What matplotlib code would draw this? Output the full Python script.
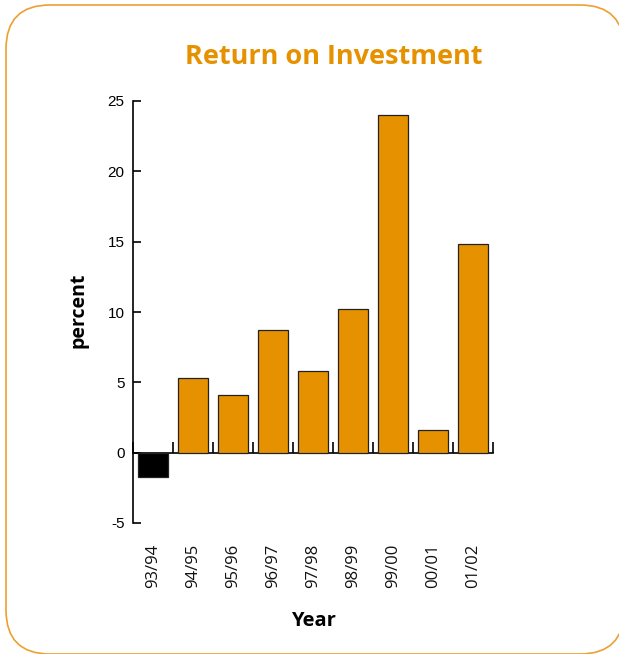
import numpy as np
import matplotlib.pyplot as plt
from matplotlib.patches import FancyBboxPatch
from matplotlib.transforms import blended_transform_factory, IdentityTransform

plt.rcParams['axes.unicode_minus'] = False

years = ['93/94', '94/95', '95/96', '96/97', '97/98', '98/99', '99/00', '00/01', '01/02']
roi = [-1.7, 5.3, 4.1, 8.7, 5.8, 10.2, 24.0, 1.6, 14.8]

orange = '#E69200'

fig = plt.figure(figsize=(6.19, 6.54), dpi=100)

# rounded frame round the whole chart (pixel coordinates, origin bottom left)
frame = FancyBboxPatch((6, 0), 618, 649,
                       boxstyle='round,pad=0,rounding_size=44',
                       transform=IdentityTransform(), facecolor='white',
                       edgecolor='#EDA030', linewidth=1.2, zorder=-1)
fig.patches.append(frame)

ax = fig.add_axes([133/619, 1 - 523/654, 360/619, 422/654])
ax.patch.set_alpha(0)

x = np.arange(len(years))
colors = ['black' if v < 0 else orange for v in roi]
ax.bar(x, roi, width=0.73, color=colors, edgecolor='#222222', linewidth=0.9, zorder=3)

ax.set_xlim(-0.5, len(years) - 0.5)
ax.set_ylim(-5, 25)

ax.spines['top'].set_visible(False)
ax.spines['right'].set_visible(False)
ax.spines['bottom'].set_position(('data', 0))
ax.spines['left'].set_linewidth(1.2)
ax.spines['bottom'].set_linewidth(1.2)

ax.set_yticks([-5, 0, 5, 10, 15, 20, 25])
ax.tick_params(axis='y', direction='in', length=6, width=1.2, pad=6, labelsize=11)
for lab in ax.get_yticklabels():
    lab.set_fontfamily('Liberation Sans')

# ticks between the categories, labels underneath the plot
ax.set_xticks(np.arange(-0.5, len(years)), minor=True)
ax.set_xticks([])
ax.tick_params(axis='x', which='minor', direction='in', length=8, width=1.2)

tr = blended_transform_factory(ax.transData, ax.transAxes)
for xi, lab in zip(x, years):
    ax.text(xi, -0.048, lab, rotation=90, ha='center', va='top', transform=tr,
            fontsize=12, fontfamily='Open Sans', color='#111111')

fig.text(334/619, 1 - 57/654, 'Return on Investment', ha='center', va='center',
         fontsize=19.5, fontweight='bold', color=orange, fontfamily='Open Sans')
fig.text(78/619, 1 - 310/654, 'percent', rotation=90, ha='center', va='center',
         fontsize=14, fontweight='bold', fontfamily='Open Sans')
fig.text(313/619, 1 - 621/654, 'Year', ha='center', va='center',
         fontsize=14.5, fontweight='bold', fontfamily='Open Sans')

fig.savefig('out.png', dpi=100)
